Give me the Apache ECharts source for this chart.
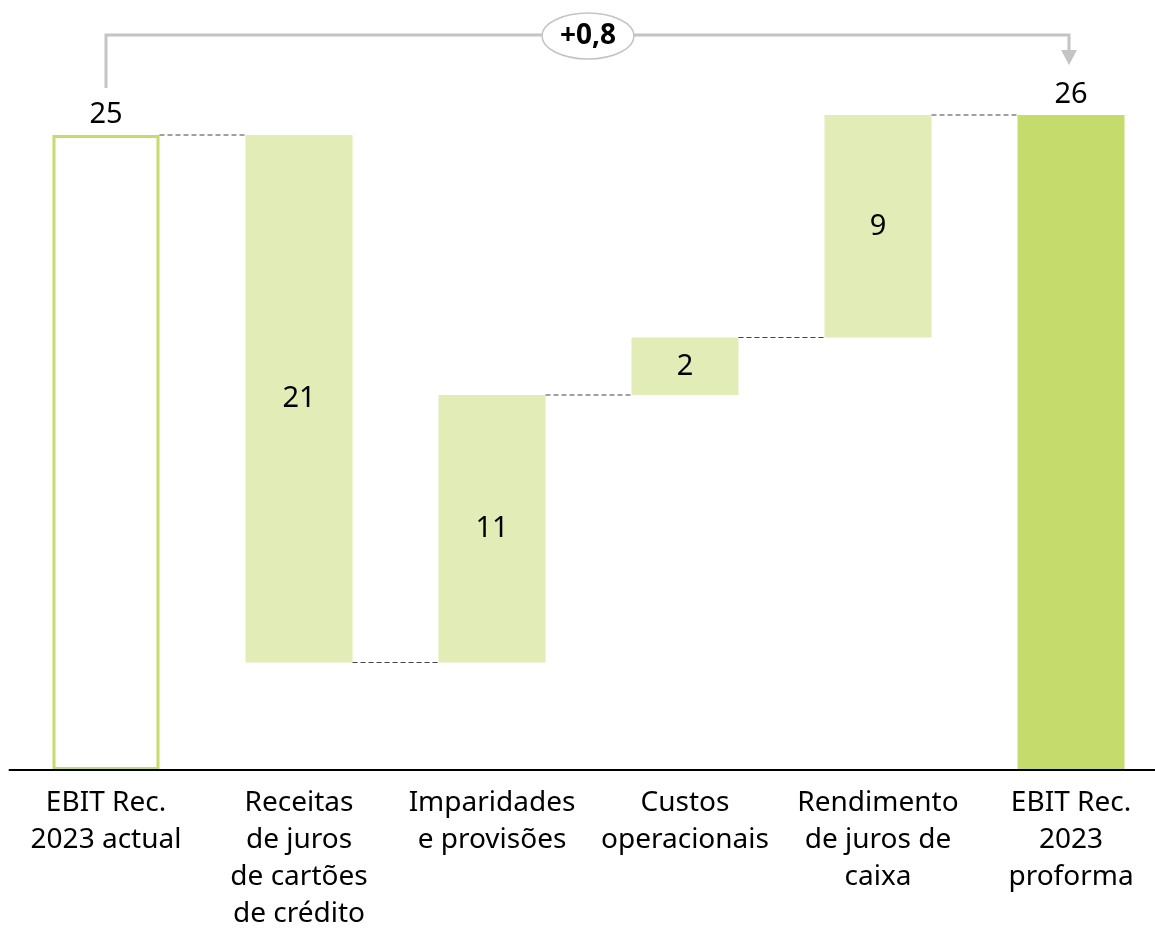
<!DOCTYPE html>
<html>
<head>
<meta charset="utf-8">
<script src="https://cdn.jsdelivr.net/npm/echarts@6/dist/echarts.min.js"></script>
<style>
  html, body { margin: 0; padding: 0; background: #fff; }
  #chart { width: 1155px; height: 931px; }
</style>
</head>
<body>
<div id="chart"></div>
<script>
const categories = [
  'EBIT Rec.\n2023 actual',
  'Receitas\nde juros\nde cartões\nde crédito',
  'Imparidades\ne provisões',
  'Custos\noperacionais',
  'Rendimento\nde juros de\ncaixa',
  'EBIT Rec.\n2023\nproforma'
]
// first and last are totals, the rest are changes
const values = [25.4, -21.1, 10.7, 2.3, 8.9, 26.2]
const valueLabels = ['25', '21', '11', '2', '9', '26']
const deltaText = '+0,8'

const FONT = '"Noto Sans", sans-serif'
const LIGHT = '#e2ecb6'
const GREEN = '#c5dc6c'

// running totals for the waterfall
const bases = []
const heights = []
const totals = []
let running = 0
values.forEach((v, i) => {
  if (i === 0 || i === values.length - 1) {
    bases.push(0)
    heights.push(v)
    running = v
  } else if (v < 0) {
    bases.push(running + v)
    heights.push(-v)
    running += v
  } else {
    bases.push(running)
    heights.push(v)
    running += v
  }
  totals.push(running)
})

const BAR_W = 107

const chart = echarts.init(document.getElementById('chart'), null, { renderer: 'canvas' })

const option = {
  animation: false,
  grid: { left: 9.5, width: 1158, top: 20, bottom: 161, outerBoundsMode: 'none', containLabel: false },
  xAxis: {
    type: 'category',
    data: categories,
    axisLine: { show: true, lineStyle: { color: '#000', width: 2 } },
    axisTick: { show: false },
    axisLabel: {
      interval: 0,
      margin: 15,
      color: '#000',
      fontFamily: FONT,
      fontSize: 28,
      lineHeight: 37
    },
    z: 10
  },
  yAxis: {
    type: 'value',
    min: 0,
    max: 30,
    show: false,
    splitLine: { show: false }
  },
  series: [
    {
      name: 'base',
      type: 'bar',
      stack: 'wf',
      barWidth: BAR_W,
      silent: true,
      itemStyle: { color: 'transparent' },
      data: bases
    },
    {
      name: 'value',
      type: 'bar',
      stack: 'wf',
      barWidth: BAR_W,
      data: heights.map((h, i) => {
        const first = i === 0
        const last = i === values.length - 1
        return {
          value: h,
          itemStyle: first
            ? { color: '#fff', borderColor: GREEN, borderWidth: 3 }
            : { color: last ? GREEN : LIGHT },
          label: {
            show: true,
            position: first || last ? 'top' : 'inside',
            distance: 6,
            formatter: valueLabels[i],
            color: '#000',
            fontFamily: FONT,
            fontSize: 29
          }
        }
      })
    },
    {
      name: 'connectors',
      type: 'custom',
      silent: true,
      z: 5,
      data: totals.slice(0, -1).map((t, i) => [i, t]),
      renderItem: (params, api) => {
        const p = api.coord([api.value(0), api.value(1)])
        const band = api.size([1, 0])[0]
        return {
          type: 'line',
          shape: {
            x1: p[0] + BAR_W / 2,
            y1: p[1],
            x2: p[0] + band - BAR_W / 2,
            y2: p[1]
          },
          style: { stroke: '#444', lineWidth: 1, lineDash: [5, 3] }
        }
      }
    }
  ]
}

chart.setOption(option)

// bracket showing the change between the two totals
const pStart = chart.convertToPixel({ gridIndex: 0 }, [0, values[0]])
const pEnd = chart.convertToPixel({ gridIndex: 0 }, [values.length - 1, values[values.length - 1]])
const topY = 35
const bubbleX = 588
const bracketColor = '#c4c4c4'

chart.setOption({
  graphic: [
    {
      type: 'polyline',
      silent: true,
      shape: {
        points: [
          [pStart[0], pStart[1] - 47],
          [pStart[0], topY],
          [pEnd[0] - 2, topY],
          [pEnd[0] - 2, pEnd[1] - 62]
        ]
      },
      style: { stroke: bracketColor, lineWidth: 3, fill: null }
    },
    {
      type: 'polygon',
      silent: true,
      shape: {
        points: [
          [pEnd[0] - 10, pEnd[1] - 65],
          [pEnd[0] + 6, pEnd[1] - 65],
          [pEnd[0] - 2, pEnd[1] - 50]
        ]
      },
      style: { fill: bracketColor }
    },
    {
      type: 'ellipse',
      silent: true,
      shape: { cx: bubbleX, cy: topY + 1, rx: 46, ry: 23 },
      style: { fill: '#fff', stroke: bracketColor, lineWidth: 1.5 },
      z: 20
    },
    {
      type: 'text',
      silent: true,
      x: bubbleX,
      y: topY + 1,
      style: {
        text: deltaText,
        fontFamily: FONT,
        fontWeight: 'bold',
        fontSize: 28,
        fill: '#000',
        align: 'center',
        verticalAlign: 'middle'
      },
      z: 21
    }
  ]
})

window.addEventListener('resize', () => chart.resize())
</script>
</body>
</html>
